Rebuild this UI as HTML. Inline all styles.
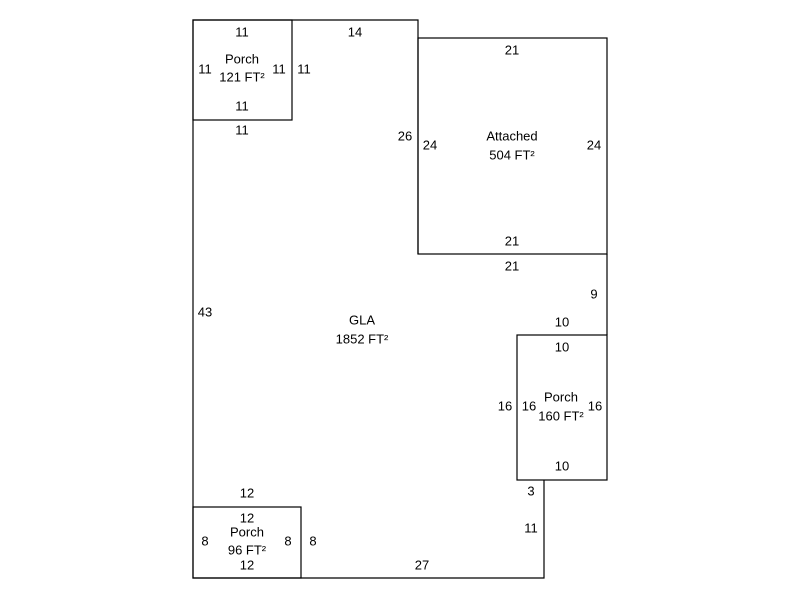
<!DOCTYPE html>
<html><head><style>
body{margin:0;background:#fff;}
svg text{font-family:"Liberation Sans",Arial,sans-serif;font-size:13px;fill:#000;text-anchor:middle;dominant-baseline:middle;}
</style></head><body>
<svg width="800" height="600" viewBox="0 0 800 600" xmlns="http://www.w3.org/2000/svg">
<g fill="none" stroke="#000" stroke-width="1.2">
<polyline points="418,38 418,20 193,20 193,578 544,578 544,480"/>
<line x1="418" y1="38" x2="418" y2="254"/>
<rect x="418" y="38" width="189" height="216"/>
<line x1="607" y1="254" x2="607" y2="335"/>
<rect x="517" y="335" width="90" height="145"/>
<rect x="193" y="20" width="99" height="100"/>
<rect x="193" y="507" width="108" height="71"/>
</g>
<text x="242" y="33">11</text>
<text x="242" y="60">Porch</text>
<text x="242" y="78">121 FT²</text>
<text x="205" y="70">11</text>
<text x="279" y="70">11</text>
<text x="304" y="70">11</text>
<text x="242" y="107">11</text>
<text x="242" y="131">11</text>
<text x="355" y="33">14</text>
<text x="512" y="51">21</text>
<text x="512" y="137">Attached</text>
<text x="512" y="156">504 FT²</text>
<text x="405" y="137">26</text>
<text x="430" y="146">24</text>
<text x="594" y="146">24</text>
<text x="512" y="242">21</text>
<text x="512" y="267">21</text>
<text x="594" y="295">9</text>
<text x="562" y="323">10</text>
<text x="562" y="348">10</text>
<text x="205" y="313">43</text>
<text x="362" y="321">GLA</text>
<text x="362" y="340">1852 FT²</text>
<text x="561" y="398">Porch</text>
<text x="561" y="417">160 FT²</text>
<text x="505" y="407">16</text>
<text x="529" y="407">16</text>
<text x="595" y="407">16</text>
<text x="562" y="467">10</text>
<text x="531" y="492">3</text>
<text x="531" y="529">11</text>
<text x="247" y="494">12</text>
<text x="247" y="519">12</text>
<text x="247" y="533">Porch</text>
<text x="247" y="551">96 FT²</text>
<text x="205" y="542">8</text>
<text x="288" y="542">8</text>
<text x="313" y="542">8</text>
<text x="247" y="566">12</text>
<text x="422" y="566">27</text>
</svg>
</body></html>
